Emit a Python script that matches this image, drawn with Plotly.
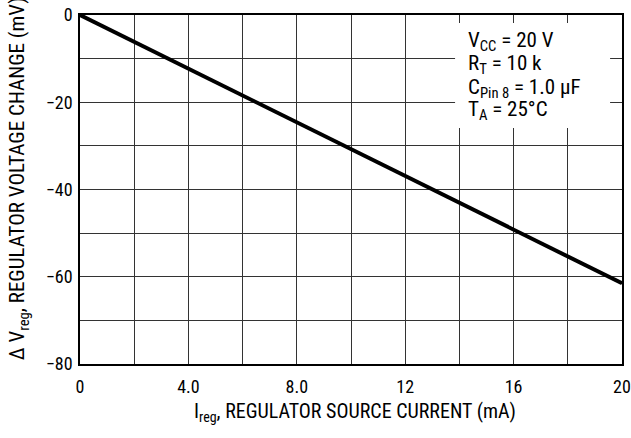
import plotly.graph_objects as go

# Data
current_mA = [0, 4, 8, 12, 16, 20]
delta_v_mV = [0, -12.3, -24.6, -36.9, -49.2, -61.5]

x_grid = [0, 2, 4, 6, 8, 10, 12, 14, 16, 18, 20]
x_labels = ["0", "", "4.0", "", "8.0", "", "12", "", "16", "", "20"]
y_grid = [0, -10, -20, -30, -40, -50, -60, -70, -80]
y_labels = ["0", "", "−20", "", "−40", "", "−60", "", "−80"]

conditions = ["V<sub>CC</sub> = 20 V", "R<sub>T</sub> = 10 k",
              "C<sub>Pin 8</sub> = 1.0 μF", "T<sub>A</sub> = 25°C"]

FONT = "Roboto Condensed, Liberation Sans Narrow, Arial Narrow, sans-serif"

fig = go.Figure()
fig.add_trace(go.Scatter(x=current_mA, y=delta_v_mV, mode="lines",
                         line=dict(color="black", width=4), showlegend=False,
                         cliponaxis=False, hoverinfo="skip"))

annotations = [
    dict(text="I<sub>reg</sub>, REGULATOR SOURCE CURRENT (mA)",
         xref="paper", yref="paper", x=0.507, y=-0.1375,
         xanchor="center", yanchor="middle", showarrow=False,
         font=dict(size=20)),
    dict(text="Δ V<sub>reg</sub>, REGULATOR VOLTAGE CHANGE (mV)",
         xref="paper", yref="paper", x=-0.113, y=0.006,
         xanchor="center", yanchor="bottom", textangle=-90,
         showarrow=False, font=dict(size=21)),
]
cond_y = [0.924, 0.858, 0.790, 0.726]
for txt, yy in zip(conditions, cond_y):
    annotations.append(dict(text=txt, xref="paper", yref="paper",
                            x=0.712, y=yy, xanchor="left", yanchor="middle",
                            align="left", showarrow=False, font=dict(size=21)))

fig.update_layout(
    width=631, height=438,
    margin=dict(l=80, r=9, t=15, b=74, autoexpand=False),
    paper_bgcolor="white", plot_bgcolor="white",
    font=dict(family=FONT, color="black", size=18),
    xaxis=dict(range=[0, 20], tickvals=x_grid, ticktext=x_labels,
               showgrid=True, gridcolor="#333333", gridwidth=1.3,
               showline=True, linecolor="black", linewidth=1.5, mirror=True,
               ticks="outside", ticklen=6, tickcolor="rgba(0,0,0,0)",
               zeroline=False, tickfont=dict(size=18), automargin=False,
               ticklabeloverflow="allow"),
    yaxis=dict(range=[-80, 0], tickvals=y_grid, ticktext=y_labels,
               showgrid=True, gridcolor="#333333", gridwidth=1.3,
               showline=True, linecolor="black", linewidth=1.5, mirror=True,
               ticks="outside", ticklen=2, tickcolor="rgba(0,0,0,0)",
               zeroline=False, tickfont=dict(size=18), automargin=False,
               ticklabeloverflow="allow"),
    shapes=[dict(type="rect", xref="paper", yref="paper",
                 x0=0.692, x1=0.978, y0=0.676, y1=0.977,
                 fillcolor="white", line=dict(width=0), layer="above")],
    annotations=annotations,
)

fig.write_html("out.html",
               config={"displayModeBar": False},
               post_script="document.body.style.margin='0';")
